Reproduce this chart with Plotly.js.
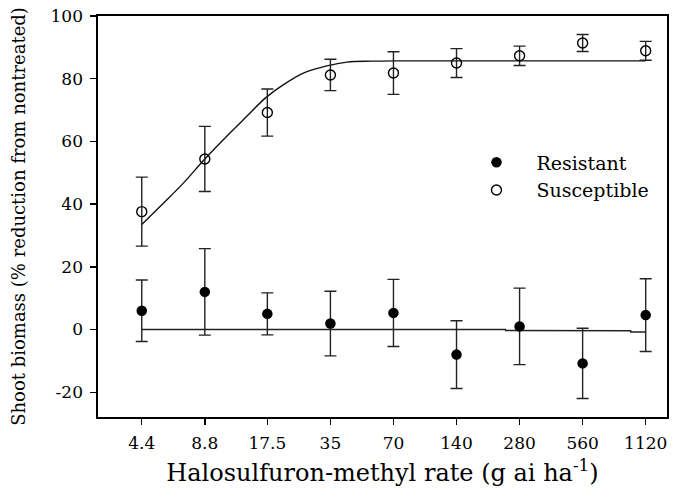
<!DOCTYPE html>
<html>
<head>
<meta charset="utf-8">
<script src="https://cdn.plot.ly/plotly-3.0.1.min.js"></script>
<style>html,body{margin:0;padding:0;background:#fff;}#chart{width:673px;height:495px;}</style>
</head>
<body>
<div id="chart"></div>
<script>
// Application rates (g ai ha-1)
const rates = [4.4, 8.8, 17.5, 35, 70, 140, 280, 560, 1120];
const rateLabels = ['4.4', '8.8', '17.5', '35', '70', '140', '280', '560', '1120'];

// y tick values and labels
const yTicks = [-20, 0, 20, 40, 60, 80, 100];
const yTickLabels = ['-20', '0', '20', '40', '60', '80', '100'];

// Resistant biotype: mean and error
const resistantMean = [6.0, 12.0, 5.0, 1.9, 5.3, -8.0, 1.0, -10.8, 4.6];
const resistantErr  = [9.8, 13.8, 6.7, 10.3, 10.7, 10.8, 12.2, 11.2, 11.6];

// Susceptible biotype: mean and error
const susceptibleMean = [37.6, 54.4, 69.2, 81.2, 81.8, 85.0, 87.3, 91.4, 88.9];
const susceptibleErr  = [11.0, 10.4, 7.5, 5.0, 6.8, 4.6, 3.1, 2.7, 3.0];

// Fitted curves
const fitSuscX = [4.4, 5.58, 6.95, 8.8, 11.6, 13.96, 17.1, 20.9, 26.0, 33.7, 42, 55, 70, 1120];
const fitSuscY = [33.5, 40.3, 46.7, 54.4, 62.7, 68.0, 73.8, 78.1, 81.8, 84.1, 85.3, 85.6, 85.7, 85.7];
const fitResX = [4.4, 240, 240, 600, 600, 950, 950, 1120];
const fitResY = [0, 0, -0.3, -0.3, -0.4, -0.4, -0.8, -0.8];

const serif = 'DejaVu Serif';
const ink = '#111';

const traces = [
  {x: fitSuscX, y: fitSuscY, mode: 'lines', line: {color: ink, width: 1.4, shape: 'spline'}, showlegend: false, hoverinfo: 'skip'},
  {x: fitResX, y: fitResY, mode: 'lines', line: {color: '#222', width: 1.4}, showlegend: false, hoverinfo: 'skip'},
  {x: rates, y: resistantMean, name: 'Resistant', mode: 'markers', type: 'scatter',
   marker: {symbol: 'circle', size: 10.5, color: '#000'},
   error_y: {type: 'data', array: resistantErr, visible: true, color: '#222', thickness: 1.4, width: 6}},
  {x: rates, y: susceptibleMean, name: 'Susceptible', mode: 'markers', type: 'scatter',
   marker: {symbol: 'circle-open', size: 10, color: '#000', line: {width: 1.4, color: '#000'}},
   error_y: {type: 'data', array: susceptibleErr, visible: true, color: '#222', thickness: 1.4, width: 6}}
];

const layout = {
  width: 673, height: 495,
  margin: {l: 98, r: 6, t: 16, b: 78},
  paper_bgcolor: '#fff', plot_bgcolor: '#fff',
  font: {family: serif, color: '#000', size: 18},
  showlegend: true,
  legend: {x: 0.63, y: 0.60, xanchor: 'left', yanchor: 'middle', bgcolor: 'rgba(0,0,0,0)',
           font: {family: serif, size: 19, color: '#000'}, itemwidth: 70, traceorder: 'normal'},
  xaxis: {
    type: 'log',
    range: [Math.log10(4.4) - 0.694 * Math.log10(2), Math.log10(1120) + 0.338 * Math.log10(2)],
    tickmode: 'array', tickvals: rates, ticktext: rateLabels,
    ticks: 'outside', ticklen: 6, tickwidth: 1.4, tickcolor: '#000',
    showline: true, linecolor: '#000', linewidth: 1.6, mirror: true,
    showgrid: false, zeroline: false,
    tickfont: {family: serif, size: 17, color: '#000'},
    ticklabelstandoff: 4,
    title: {text: 'Halosulfuron-methyl rate (g ai ha<sup>-1</sup>)', font: {family: serif, size: 24, color: '#000'}, standoff: 12}
  },
  yaxis: {
    range: [-27.9, 100],
    tickmode: 'array', tickvals: yTicks, ticktext: yTickLabels,
    ticks: 'outside', ticklen: 6, tickwidth: 1.4, tickcolor: '#000',
    showline: true, linecolor: '#000', linewidth: 1.6, mirror: true,
    showgrid: false, zeroline: false,
    tickfont: {family: serif, size: 17, color: '#000'},
    ticklabelstandoff: 4,
    title: {text: 'Shoot biomass (% reduction from nontreated)', font: {family: serif, size: 18, color: '#000'}, standoff: 20}
  }
};

Plotly.newPlot('chart', traces, layout, {displayModeBar: false, staticPlot: true});
</script>
</body>
</html>
